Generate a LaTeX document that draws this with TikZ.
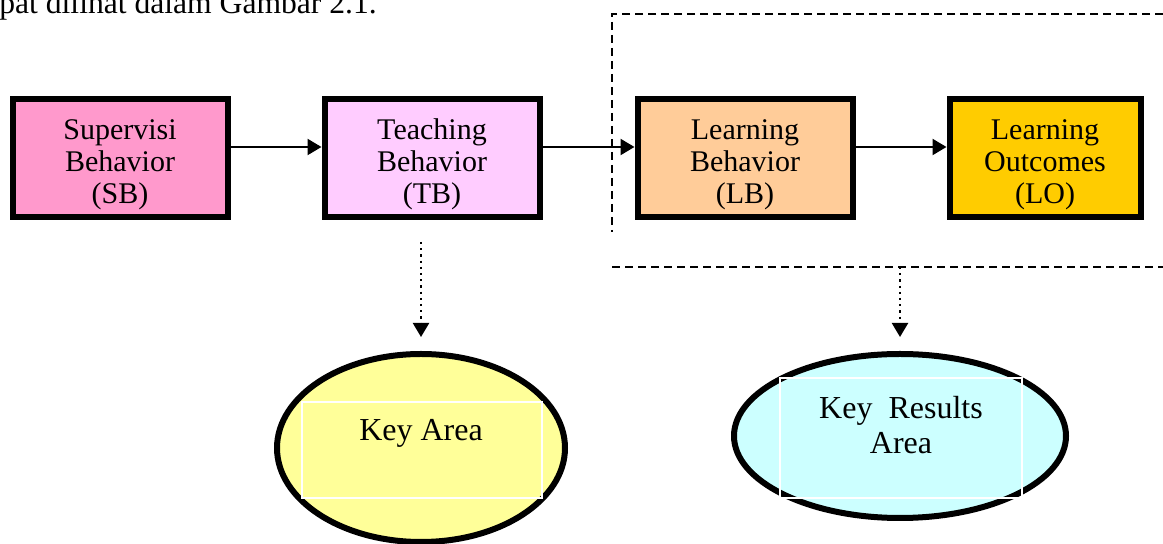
\documentclass[tikz,border=0pt]{standalone}
\usepackage{fontspec}
\setmainfont{Liberation Serif}
\usetikzlibrary{arrows.meta,shapes.geometric}
\definecolor{rosesb}{HTML}{FF99CC}
\definecolor{rosetb}{HTML}{FFCCFF}
\definecolor{orangelb}{HTML}{FFCC99}
\definecolor{orlo}{HTML}{FFCC00}
\definecolor{jaune}{HTML}{FFFF99}
\definecolor{cyan}{HTML}{CCFFFF}

\begin{document}
\begin{tikzpicture}[x=0.5pt,y=-0.5pt]
\tikzset{boite/.style={draw, line width=3pt, minimum height=59pt, align=center, inner sep=0pt, text height=48pt, text depth=2pt, font=\fontsize{15}{16}\selectfont}}
\tikzset{fleche/.style={line width=1.1pt, -{Triangle[length=7pt,width=8pt]}}}
\tikzset{pointille/.style={dotted, line width=1.1pt, -{Triangle[length=7pt,width=8pt]}}}
\tikzset{ovale/.style={draw, ellipse, line width=3pt, inner sep=0pt}}
\tikzset{cadre/.style={draw=white, line width=0.6pt, inner sep=0pt}}
\tikzset{tirets/.style={line width=0.75pt, dash pattern=on 4pt off 2.5pt}}
\useasboundingbox (0,0) rectangle (1163,544);
\node[anchor=base west, inner sep=0pt, font=\fontsize{15.8}{17}\selectfont] (titre) at (-1,14) {pat dilihat dalam Gambar 2.1.};
\node[boite, fill=rosesb, minimum width=107.5pt] (SB) at (120,158) {Supervisi\\Behavior\\(SB)};
\node[boite, fill=rosetb, minimum width=107.5pt] (TB) at (432,158) {Teaching\\Behavior\\(TB)};
\node[boite, fill=orangelb, minimum width=107.5pt] (LB) at (745,158) {Learning\\Behavior\\(LB)};
\node[boite, fill=orlo, minimum width=95.5pt] (LO) at (1045,158) {Learning\\Outcomes\\(LO)};
\draw[fleche] ([yshift=5.5pt]SB.east) -- ([yshift=5.5pt]TB.west);
\draw[fleche] ([yshift=5.5pt]TB.east) -- ([yshift=5.5pt]LB.west);
\draw[fleche] ([yshift=5.5pt]LB.east) -- ([yshift=5.5pt]LO.west);
\coordinate (H1) at (1163,14);
\coordinate (H2) at (612,14);
\coordinate (H3) at (612,232);
\coordinate (B1) at (612,267);
\coordinate (B2) at (1163,267);
\coordinate (bas) at (900,267);
\coordinate (tbbas) at (421,242);
\draw[tirets] (H1) -- (H2) -- (H3);
\draw[tirets] (B1) -- (B2);
\node[ovale, fill=jaune, minimum width=144pt, minimum height=94pt] (KA) at (421,448) {};
\node[cadre, minimum width=120pt, minimum height=48pt] (KAbox) at (422,450) {};
\node[font=\fontsize{16}{17.5}\selectfont] (KAtxt) at (421,433) {Key Area};
\node[ovale, fill=cyan, minimum width=166pt, minimum height=82pt] (KRA) at (900,436) {};
\node[cadre, minimum width=121pt, minimum height=60pt] (KRAbox) at (901,438) {};
\node[align=center, font=\fontsize{16}{17.5}\selectfont] (KRAtxt) at (901,425) {Key\ \ Results\\Area};
\draw[pointille] (tbbas) -- ([yshift=7pt]KA.north);
\draw[pointille] (bas) -- ([yshift=7pt]KRA.north);
\end{tikzpicture}
\end{document}
